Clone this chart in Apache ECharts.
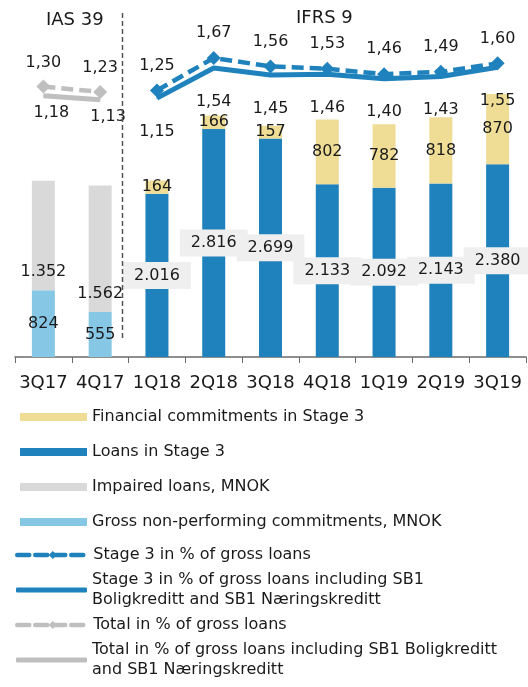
<!DOCTYPE html>
<html>
<head>
<meta charset="utf-8">
<script src="https://cdn.jsdelivr.net/npm/echarts@6/dist/echarts.min.js"></script>
<style>
  html, body { margin: 0; padding: 0; background: #fff; }
  #main { width: 528px; height: 687px; }
</style>
</head>
<body>
<div id="main"></div>
<script>
// quarters on the x axis
const quarters = ['3Q17', '4Q17', '1Q18', '2Q18', '3Q18', '4Q18', '1Q19', '2Q19', '3Q19'];

// bars, MNOK
const grossNonPerforming = [824, 555, '-', '-', '-', '-', '-', '-', '-'];
const impairedLoans = [1352, 1562, '-', '-', '-', '-', '-', '-', '-'];
const loansStage3 = ['-', '-', 2016, 2816, 2699, 2133, 2092, 2143, 2380];
const commitmentsStage3 = ['-', '-', 164, 166, 157, 802, 782, 818, 870];

// lines, percent
const stage3Pct = ['-', '-', 1.25, 1.67, 1.56, 1.53, 1.46, 1.49, 1.60];
const stage3PctInclSB1 = ['-', '-', 1.15, 1.54, 1.45, 1.46, 1.40, 1.43, 1.55];
const totalPct = [1.30, 1.23, '-', '-', '-', '-', '-', '-', '-'];
const totalPctInclSB1 = [1.18, 1.13, '-', '-', '-', '-', '-', '-', '-'];

const FONT = 'DejaVu Sans';
const TXT = '#1a1a1a';
const BLUE = '#1f82bd';
const LIGHTBLUE = '#87c7e6';
const YELLOW = '#efdd96';
const GREY = '#d9d9d9';
const LINEGREY = '#bfbfbf';

/**number formats**/
const mnok = (v) => {
  let n = Math.round(v);
  return n >= 1000 ? Math.floor(n / 1000) + '.' + String(n % 1000).padStart(3, '0') : String(n);
};
const pct = (v) => Number(v).toFixed(2).replace('.', ',');

const names = [
  'Financial commitments in Stage 3',
  'Loans in Stage 3',
  'Impaired loans, MNOK',
  'Gross non-performing commitments, MNOK',
  'Stage 3 in % of gross loans',
  'Stage 3 in % of gross loans including SB1\nBoligkreditt and SB1 Næringskreditt',
  'Total in % of gross loans',
  'Total in % of gross loans including SB1 Boligkreditt\nand SB1 Næringskreditt'
];
// legend row centres
const legendRows = [417, 452, 487, 522, 555, 590, 625, 660];

let legends = names.map((nm, i) => {
  let twoLine = nm.indexOf('\n') >= 0;
  let kind = i < 4 ? 'bar' : (i === 4 || i === 6 ? 'dash' : 'solid');
  let lg = {
    data: [nm],
    left: kind === 'bar' ? 20 : (kind === 'dash' ? 15 : 16),
    top: twoLine ? legendRows[i] - 30 : legendRows[i] - 8,
    padding: 0,
    orient: 'vertical',
    selectedMode: false,
    textStyle: twoLine
      ? {fontFamily: FONT, fontSize: 16, color: TXT, lineHeight: 20, padding: [20, 0, 0, 0]}
      : {fontFamily: FONT, fontSize: 16, color: TXT}
  };
  if (kind === 'bar') {
    lg.icon = 'rect'; lg.itemWidth = 67; lg.itemHeight = 8;
  } else if (kind === 'solid') {
    lg.icon = 'roundRect'; lg.itemWidth = 71; lg.itemHeight = 5;
  } else {
    lg.itemWidth = 71; lg.itemHeight = 10;
    lg.lineStyle = {width: 4.5, cap: 'round'};
  }
  return lg;
});

let chart = echarts.init(document.getElementById('main'), null, {renderer: 'canvas'});
chart.setOption({
  animation: false,
  textStyle: {fontFamily: FONT},
  legend: legends,
  grid: {left: 15, right: 2, top: 17, bottom: 330, containLabel: false},
  xAxis: {
    type: 'category',
    data: quarters,
    axisLine: {lineStyle: {color: '#6b6b6b', width: 1.5}},
    axisTick: {show: true, length: 6, lineStyle: {color: '#6b6b6b'}},
    axisLabel: {interval: 0, fontFamily: FONT, fontSize: 18, color: TXT, margin: 17}
  },
  yAxis: [
    {type: 'value', min: 0, max: 4200, show: false, splitLine: {show: false}},
    {type: 'value', min: -2.2, max: 2.2, show: false, splitLine: {show: false}}
  ],
  series: [
    {
      name: names[3], type: 'bar', stack: 'a', barWidth: 23,
      data: grossNonPerforming,
      itemStyle: {color: LIGHTBLUE},
      label: {show: true, position: 'inside', fontSize: 16, color: TXT, formatter: (p) => mnok(p.value)}
    },
    {
      name: names[2], type: 'bar', stack: 'a', barWidth: 23,
      data: impairedLoans,
      itemStyle: {color: GREY},
      label: {show: true, position: 'insideBottom', distance: 10, fontSize: 16, color: TXT, formatter: (p) => mnok(p.value)}
    },
    {
      name: names[1], type: 'bar', stack: 'a', barWidth: 23,
      data: loansStage3,
      itemStyle: {color: BLUE},
      label: {
        show: true, position: 'inside', fontSize: 16, color: TXT,
        backgroundColor: '#efefef', padding: [6, 11, 5, 11],
        formatter: (p) => mnok(p.value)
      }
    },
    {
      name: names[0], type: 'bar', stack: 'a', barWidth: 23,
      data: commitmentsStage3,
      itemStyle: {color: YELLOW},
      label: {show: true, position: 'inside', fontSize: 16, color: TXT, formatter: (p) => mnok(p.value)}
    },
    {
      name: names[5], type: 'line', yAxisIndex: 1,
      data: stage3PctInclSB1,
      symbol: 'circle', symbolSize: 1, showSymbol: true,
      lineStyle: {color: BLUE, width: 5},
      itemStyle: {color: BLUE},
      label: {show: true, position: 'bottom', distance: 25, fontSize: 16, color: TXT, formatter: (p) => pct(p.value)}
    },
    {
      name: names[4], type: 'line', yAxisIndex: 1,
      data: stage3Pct,
      symbol: 'diamond', symbolSize: 14,
      lineStyle: {color: BLUE, width: 4.5, type: [12, 6]},
      itemStyle: {color: BLUE},
      label: {show: true, position: 'top', distance: 10, fontSize: 16, color: TXT, formatter: (p) => pct(p.value)}
    },
    {
      name: names[7], type: 'line', yAxisIndex: 1,
      data: totalPctInclSB1,
      symbol: 'circle', symbolSize: 1, showSymbol: true,
      lineStyle: {color: LINEGREY, width: 5},
      itemStyle: {color: LINEGREY},
      label: {show: true, position: 'bottom', distance: 9, offset: [8, 0], fontSize: 16, color: TXT, formatter: (p) => pct(p.value)}
    },
    {
      name: names[6], type: 'line', yAxisIndex: 1,
      data: totalPct,
      symbol: 'diamond', symbolSize: 14,
      lineStyle: {color: LINEGREY, width: 4.5, type: [12, 6]},
      itemStyle: {color: LINEGREY},
      label: {show: true, position: 'top', distance: 9, fontSize: 16, color: TXT, formatter: (p) => pct(p.value)}
    }
  ]
});

/**IAS 39 / IFRS 9 separator**/
let xa = chart.convertToPixel({xAxisIndex: 0}, quarters[1]);
let xb = chart.convertToPixel({xAxisIndex: 0}, quarters[2]);
let sepX = Math.round((xa + xb) / 2) - 7 + 0.5;
chart.setOption({
  graphic: [
    {
      type: 'line', z: 100,
      shape: {x1: sepX, y1: 13, x2: sepX, y2: 340},
      style: {stroke: '#555', lineWidth: 1.5, lineDash: [5, 3]}
    },
    {
      type: 'text', left: 77 - 31, top: 11,
      style: {text: 'IAS 39', font: '18px "DejaVu Sans"', fill: TXT}
    },
    {
      type: 'text', left: 327 - 31, top: 9,
      style: {text: 'IFRS 9', font: '18px "DejaVu Sans"', fill: TXT}
    }
  ]
});
</script>
</body>
</html>
